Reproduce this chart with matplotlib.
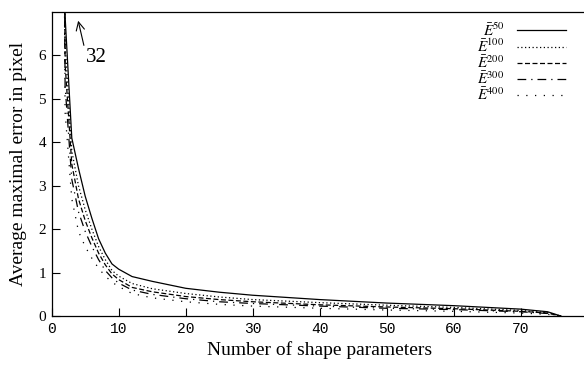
import matplotlib
matplotlib.use("Agg")
import matplotlib.pyplot as plt

plt.rcParams['font.family'] = ['Liberation Serif', 'DejaVu Serif']
plt.rcParams['mathtext.fontset'] = 'stix'

# number of shape parameters
x = [1, 2, 3, 4, 5, 6, 7, 8, 9, 10, 12, 15, 20, 25, 30, 40, 50, 60, 70, 74, 76]

# average maximal error per training set size
e50 = [32, 6.9, 4.1, 3.4, 2.76, 2.25, 1.78, 1.45, 1.2, 1.08, 0.91, 0.8, 0.64, 0.55, 0.48, 0.38, 0.3, 0.24, 0.16, 0.1, 0.0]
e100 = [32, 6.3, 3.8, 3.0, 2.45, 2.0, 1.6, 1.3, 1.05, 0.92, 0.75, 0.63, 0.52, 0.44, 0.38, 0.31, 0.25, 0.2, 0.13, 0.08, 0.0]
e200 = [32, 5.8, 3.5, 2.7, 2.2, 1.8, 1.45, 1.18, 0.97, 0.84, 0.66, 0.56, 0.45, 0.38, 0.33, 0.26, 0.21, 0.17, 0.11, 0.07, 0.0]
e300 = [32, 5.3, 3.15, 2.4, 1.95, 1.6, 1.3, 1.05, 0.88, 0.76, 0.6, 0.5, 0.4, 0.33, 0.29, 0.23, 0.18, 0.15, 0.1, 0.06, 0.0]
e400 = [32, 4.7, 2.7, 1.95, 1.6, 1.33, 1.1, 0.92, 0.78, 0.68, 0.52, 0.42, 0.33, 0.27, 0.23, 0.18, 0.14, 0.11, 0.07, 0.04, 0.0]

series = [e50, e100, e200, e300, e400]
labels = [r'$\bar{E}^{\mathrm{50}}$', r'$\bar{E}^{\mathrm{100}}$', r'$\bar{E}^{\mathrm{200}}$',
          r'$\bar{E}^{\mathrm{300}}$', r'$\bar{E}^{\mathrm{400}}$']
styles = ['-', (0, (1, 2)), (0, (4, 2)), (0, (7, 4, 1, 4)), (0, (1, 6))]

xticks = [0, 10, 20, 30, 40, 50, 60, 70]
yticks = [0, 1, 2, 3, 4, 5, 6]

fig = plt.figure(figsize=(5.84, 3.65), dpi=100)
ax = fig.add_axes([0.0885, 0.134, 0.918, 0.833])

for ys, lab, ls in zip(series, labels, styles):
    ax.plot(x, ys, color='black', linestyle=ls, linewidth=0.9, label=lab)

ax.set_xlim(0, 80)
ax.set_ylim(0, 7)
ax.set_xticks(xticks)
ax.set_yticks(yticks)
ax.set_xticklabels([str(t) for t in xticks], family='Liberation Mono', fontsize=10.5)
ax.set_yticklabels([str(t) for t in yticks], fontsize=11)
ax.tick_params(direction='in', length=6, width=0.8, pad=4)
ax.spines['right'].set_visible(False)
for s in ['top', 'left', 'bottom']:
    ax.spines[s].set_linewidth(0.9)

ax.set_xlabel('Number of shape parameters', fontsize=14, labelpad=4)
ax.set_ylabel('Average maximal error in pixel', fontsize=14, labelpad=8)

ax.annotate('32', xy=(3.95, 6.8), xytext=(5.1, 5.95), fontsize=15,
            va='center', ha='left',
            arrowprops=dict(arrowstyle='->', color='black', lw=0.8,
                            shrinkA=0, shrinkB=0, relpos=(0, 0.7)))

ax.legend(loc='upper right', bbox_to_anchor=(0.982, 0.962),
          bbox_transform=fig.transFigure, frameon=False, markerfirst=False,
          handlelength=3.2, handletextpad=0.8, labelspacing=-0.05,
          borderpad=0, fontsize=11)

fig.savefig('out.png', dpi=100)
